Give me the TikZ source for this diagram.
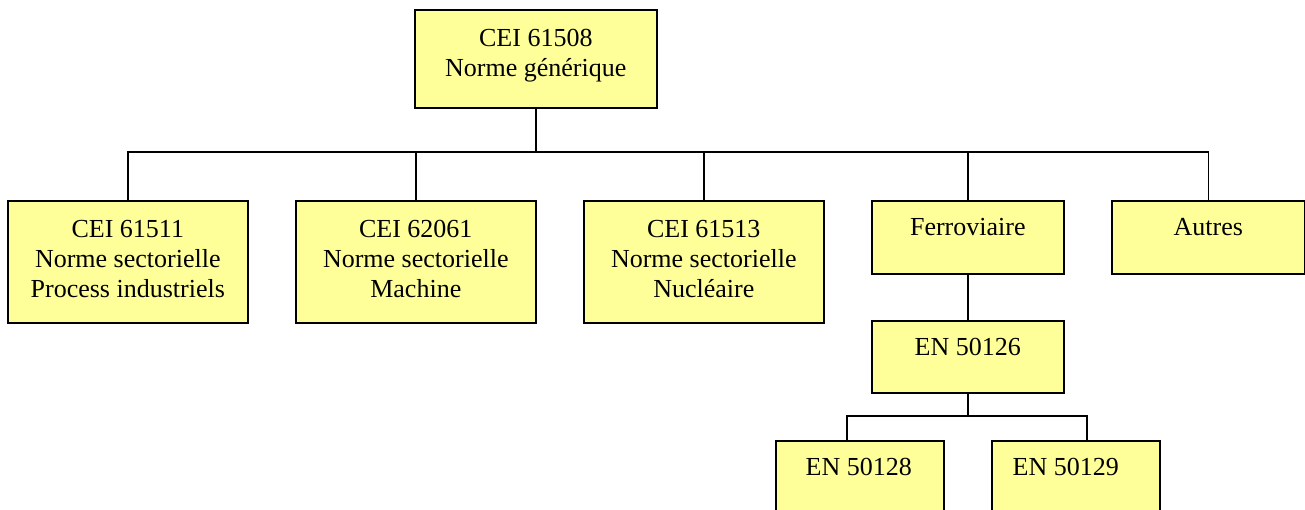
\documentclass[tikz,border=0pt]{standalone}
\usepackage{fontspec}
\setmainfont{Liberation Serif}
\usetikzlibrary{calc}
\definecolor{boxyellow}{RGB}{255,255,153}
\tikzset{
  box/.style={draw=black, fill=boxyellow, line width=1.6pt, anchor=north west, inner sep=0pt},
  txt/.style={anchor=north, align=center, inner sep=0pt, font=\fontsize{26}{30}\selectfont},
  link/.style={draw=black, line width=1.6pt}
}
\begin{document}
\begin{tikzpicture}[x=1pt,y=-1pt]
\useasboundingbox (0,0) rectangle (1305,509);
\clip (0,0) rectangle (1305,509);
% boxes
\node[box, minimum width=242pt, minimum height=98pt] (top) at (414,9) {};
\node[box, minimum width=240pt, minimum height=122pt] (b1) at (7,200) {};
\node[box, minimum width=240pt, minimum height=122pt] (b2) at (295,200) {};
\node[box, minimum width=240pt, minimum height=122pt] (b3) at (583,200) {};
\node[box, minimum width=192pt, minimum height=73pt] (fer) at (871,200) {};
\node[box, minimum width=193pt, minimum height=73pt] (aut) at (1111,200) {};
\node[box, minimum width=192pt, minimum height=72pt] (en26) at (871,320) {};
\node[box, minimum width=168pt, minimum height=90pt] (en28) at (775,440) {};
\node[box, minimum width=168pt, minimum height=90pt] (en29) at (991,440) {};
% texts
\node[txt] (ttop) at ($(top.north)+(0,16)$) {\strut CEI 61508\\\strut Norme générique};
\node[txt] (tb1) at ($(b1.north)+(0,16)$) {\strut CEI 61511\\\strut Norme sectorielle\\\strut Process industriels};
\node[txt] (tb2) at ($(b2.north)+(0,16)$) {\strut CEI 62061\\\strut Norme sectorielle\\\strut Machine};
\node[txt] (tb3) at ($(b3.north)+(0,16)$) {\strut CEI 61513\\\strut Norme sectorielle\\\strut Nucléaire};
\node[txt] (tfer) at ($(fer.north)+(0,14)$) {\strut Ferroviaire};
\node[txt] (taut) at ($(aut.north)+(0,14)$) {\strut Autres};
\node[txt] (ten26) at ($(en26.north)+(0,14)$) {\strut EN 50126};
\node[txt] (ten28) at ($(en28.north)+(-1,14)$) {\strut EN 50128};
\node[txt] (ten29) at ($(en29.north)+(-10,14)$) {\strut EN 50129};
% connectors
\coordinate (bus) at (535,152);
\draw[link] (top.south) -- (top.south |- bus);
\draw[link] (b1.north) -- (b1.north |- bus) -- (aut.north |- bus) -- (aut.north);
\draw[link] (b2.north) -- (b2.north |- bus);
\draw[link] (b3.north) -- (b3.north |- bus);
\draw[link] (fer.north) -- (fer.north |- bus);
\draw[link] (fer.south) -- (en26.north);
\coordinate (d28) at (847,416);
\coordinate (d29) at (1087,416);
\draw[link] (en26.south) -- (en26.south |- d28);
\draw[link] (d28 |- en28.north) -- (d28) -- (d29) -- (d29 |- en29.north);
\end{tikzpicture}
\end{document}
